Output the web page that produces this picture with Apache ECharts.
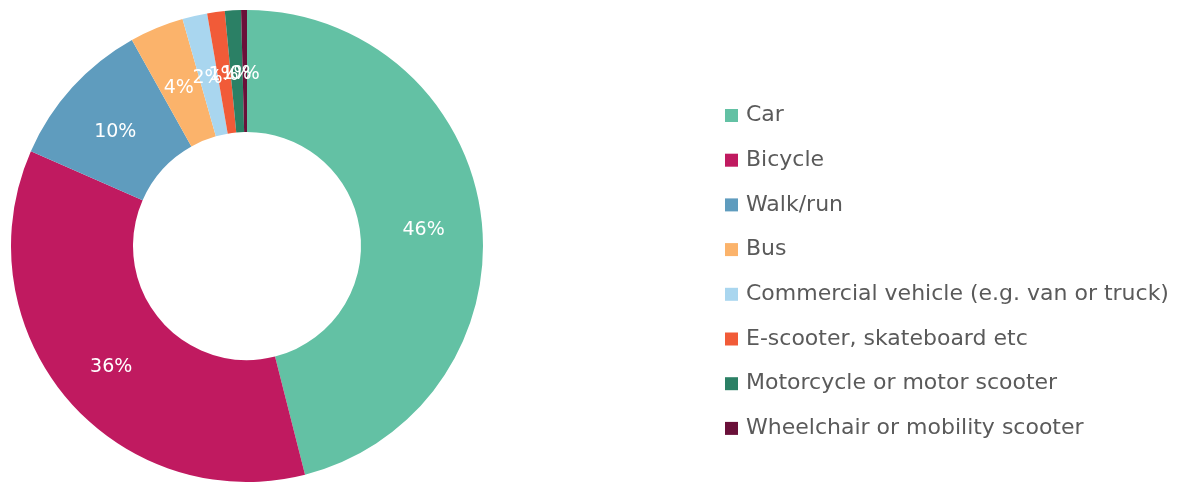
<!DOCTYPE html>
<html>
<head>
<meta charset="utf-8">
<script src="https://cdn.jsdelivr.net/npm/echarts@6/dist/echarts.min.js"></script>
<style>
  html, body { margin: 0; padding: 0; background: #fff; }
  #chart { width: 1187px; height: 482px; }
</style>
</head>
<body>
<div id="chart"></div>
<script>
// travel mode shares (percent)
const categories = [
  'Car',
  'Bicycle',
  'Walk/run',
  'Bus',
  'Commercial vehicle (e.g. van or truck)',
  'E-scooter, skateboard etc',
  'Motorcycle or motor scooter',
  'Wheelchair or mobility scooter'
]
const values = [46, 35.5, 10.3, 3.7, 1.7, 1.2, 1.1, 0.4]
const colors = ['#63c1a4', '#c01a60', '#5f9cbe', '#fbb36b', '#a9d6ef', '#f15b38', '#2b8065', '#6a1039']

const chart = echarts.init(document.getElementById('chart'))
const total = values.reduce((a, b) => a + b, 0)

chart.setOption({
  animation: false,
  color: colors,
  legend: {
    orient: 'vertical',
    left: 720,
    top: 97.5,
    icon: 'rect',
    itemWidth: 13,
    itemHeight: 13,
    itemGap: 18.7,
    textStyle: {
      fontFamily: 'DejaVu Sans',
      fontSize: 22,
      lineHeight: 26,
      color: '#5a5a5a',
      padding: [0, 0, 0, 3]
    },
    data: categories
  },
  series: [{
    type: 'pie',
    center: [247, 246],
    radius: [114, 236],
    startAngle: 90,
    clockwise: true,
    avoidLabelOverlap: false,
    labelLayout: { hideOverlap: false },
    label: {
      show: true,
      position: 'inside',
      color: '#fff',
      fontFamily: 'DejaVu Sans',
      fontSize: 19,
      offset: [0, 6],
      formatter: p => Math.round(p.value / total * 100) + '%'
    },
    labelLine: { show: false },
    emphasis: { disabled: true },
    data: categories.map((name, i) => ({ name: name, value: values[i] }))
  }]
})
</script>
</body>
</html>
